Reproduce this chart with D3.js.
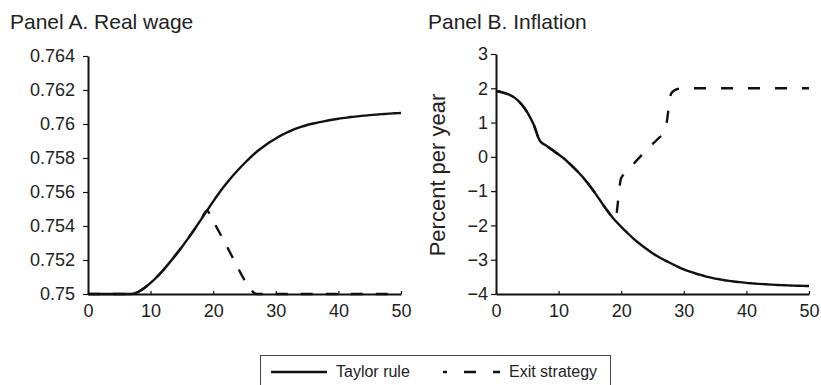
<!DOCTYPE html>
<html>
<head>
<meta charset="utf-8">
<script src="https://cdn.jsdelivr.net/npm/d3@7"></script>
<style>
  body { margin: 0; background: #fff; }
  svg { display: block; font-family: "Liberation Sans", Arial, sans-serif; }
  .axis path, .axis line { stroke: #111; }
  .axis text { fill: #222; }
</style>
</head>
<body>
<div id="chart"></div>
<script>
var svgWidth = 821;
var svgHeight = 385;

// periods 0..50
var periods = d3.range(0, 51);

// Panel A, real wage
var wageTaylor = [0.75, 0.75, 0.75, 0.75, 0.75, 0.75, 0.75, 0.75, 0.75012, 0.75035,
  0.75065, 0.75100, 0.75140, 0.75183, 0.75229, 0.75277, 0.75327, 0.75380, 0.75435, 0.75490,
  0.75545, 0.75597, 0.75645, 0.75690, 0.75731, 0.75769, 0.75805, 0.75838, 0.75866, 0.75892,
  0.75915, 0.75936, 0.75954, 0.75970, 0.75983, 0.75994, 0.76003, 0.76011, 0.76018, 0.76025,
  0.76031, 0.76036, 0.76041, 0.76045, 0.76049, 0.76052, 0.76055, 0.76058, 0.76061, 0.76063, 0.76065];
var wageExit = [0.75, 0.75, 0.75, 0.75, 0.75, 0.75, 0.75, 0.75, 0.75012, 0.75035,
  0.75065, 0.75100, 0.75140, 0.75183, 0.75229, 0.75277, 0.75327, 0.75380, 0.75435, 0.75490,
  0.75428, 0.75362, 0.75293, 0.75222, 0.75150, 0.75082, 0.75025, 0.75, 0.75, 0.75,
  0.75, 0.75, 0.75, 0.75, 0.75, 0.75, 0.75, 0.75, 0.75, 0.75,
  0.75, 0.75, 0.75, 0.75, 0.75, 0.75, 0.75, 0.75, 0.75, 0.75, 0.75];

// Panel B, inflation (percent per year)
var inflTaylor = [1.92, 1.88, 1.82, 1.72, 1.55, 1.30, 0.95, 0.47, 0.33, 0.20,
  0.07, -0.07, -0.24, -0.42, -0.62, -0.85, -1.10, -1.37, -1.62, -1.85,
  -2.04, -2.22, -2.39, -2.54, -2.68, -2.81, -2.92, -3.02, -3.11, -3.20,
  -3.28, -3.35, -3.41, -3.46, -3.51, -3.55, -3.58, -3.61, -3.635, -3.655,
  -3.675, -3.69, -3.705, -3.717, -3.728, -3.737, -3.745, -3.752, -3.758, -3.763, -3.767];
var inflExit = [1.92, 1.88, 1.82, 1.72, 1.55, 1.30, 0.95, 0.47, 0.33, 0.20,
  0.07, -0.07, -0.24, -0.42, -0.62, -0.85, -1.10, -1.37, -1.62, -1.85,
  -0.62, -0.42, -0.20, 0.00, 0.20, 0.37, 0.55, 0.75, 1.85, 1.98,
  2, 2, 2, 2, 2, 2, 2, 2, 2, 2,
  2, 2, 2, 2, 2, 2, 2, 2, 2, 2, 2];

var xTicks = [0, 10, 20, 30, 40, 50];
var yTicksA = [0.75, 0.752, 0.754, 0.756, 0.758, 0.76, 0.762, 0.764];
var yLabelsA = ["0.75", "0.752", "0.754", "0.756", "0.758", "0.76", "0.762", "0.764"];
var yTicksB = [-4, -3, -2, -1, 0, 1, 2, 3];

var seriesNames = ["Taylor rule", "Exit strategy"];

var svg = d3.select("#chart")
    .append("svg")
    .attr("width", svgWidth)
    .attr("height", svgHeight);

function drawPanel(opts) {
    var x = d3.scaleLinear().domain([0, 50]).range(opts.xRange);
    var y = d3.scaleLinear().domain(opts.yDomain).range(opts.yRange);

    var line = d3.line()
        .x((d, i) => x(periods[i]))
        .y(d => y(d))
        .curve(d3.curveMonotoneX);

    svg.append("path")
        .datum(opts.solid)
        .attr("d", line)
        .attr("fill", "none")
        .attr("stroke", "#111")
        .attr("stroke-width", 2.4);

    svg.append("path")
        .datum(opts.dashed)
        .attr("d", line)
        .attr("fill", "none")
        .attr("stroke", "#111")
        .attr("stroke-width", 2.4)
        .attr("stroke-dasharray", opts.dash);

    svg.append("g")
        .attr("class", "axis")
        .attr("transform", `translate(0, ${opts.yRange[0]})`)
        .call(d3.axisBottom(x).tickValues(xTicks).tickSize(-3).tickSizeOuter(0).tickPadding(10))
        .call(g => g.selectAll("text").style("font-size", "18px"))
        .call(g => g.select(".domain").attr("stroke-width", 2))
        .call(g => g.selectAll(".tick line").attr("stroke-width", 1.2));

    svg.append("g")
        .attr("class", "axis")
        .attr("transform", `translate(${opts.xRange[0]}, 0)`)
        .call(d3.axisLeft(y).tickValues(opts.yTicks).tickFormat(opts.yFormat)
            .tickSize(5).tickSizeOuter(0).tickPadding(opts.yPad))
        .call(g => g.selectAll("text").style("font-size", "18px"))
        .call(g => g.select(".domain").attr("stroke-width", 2))
        .call(g => g.selectAll(".tick line").attr("stroke-width", 1.2));

    svg.append("text")
        .attr("x", opts.titleX)
        .attr("y", 29)
        .attr("fill", "#222")
        .style("font-size", "21px")
        .text(opts.title);
}

drawPanel({
    xRange: [88, 401], yDomain: [0.75, 0.764], yRange: [294, 56],
    solid: wageTaylor, dashed: wageExit, dash: "12,13",
    yTicks: yTicksA, yFormat: (d, i) => yLabelsA[i], yPad: 8,
    title: "Panel A. Real wage", titleX: 10
});

drawPanel({
    xRange: [496, 809], yDomain: [-4, 3], yRange: [294, 54],
    solid: inflTaylor, dashed: inflExit, dash: "12,15",
    yTicks: yTicksB, yFormat: d3.format("d"), yPad: 3,
    title: "Panel B. Inflation", titleX: 428
});

svg.append("text")
    .attr("transform", "translate(445, 175) rotate(-90)")
    .attr("text-anchor", "middle")
    .attr("fill", "#222")
    .style("font-size", "22px")
    .text("Percent per year");

// legend
var legend = svg.append("g");
legend.append("rect")
    .attr("x", 260.5).attr("y", 355.5)
    .attr("width", 350).attr("height", 40)
    .attr("fill", "none")
    .attr("stroke", "#444")
    .attr("stroke-width", 1);

legend.append("line")
    .attr("x1", 271).attr("x2", 327).attr("y1", 372).attr("y2", 372)
    .attr("stroke", "#111").attr("stroke-width", 2.4);
legend.append("text")
    .attr("x", 336).attr("y", 377)
    .attr("fill", "#222").style("font-size", "16px")
    .text(seriesNames[0]);

legend.append("line")
    .attr("x1", 443).attr("x2", 500).attr("y1", 372).attr("y2", 372)
    .attr("stroke", "#111").attr("stroke-width", 2.4)
    .attr("stroke-dasharray", "12,17").attr("stroke-dashoffset", 8);
legend.append("text")
    .attr("x", 509).attr("y", 377)
    .attr("fill", "#222").style("font-size", "16px")
    .text(seriesNames[1]);
</script>
</body>
</html>
